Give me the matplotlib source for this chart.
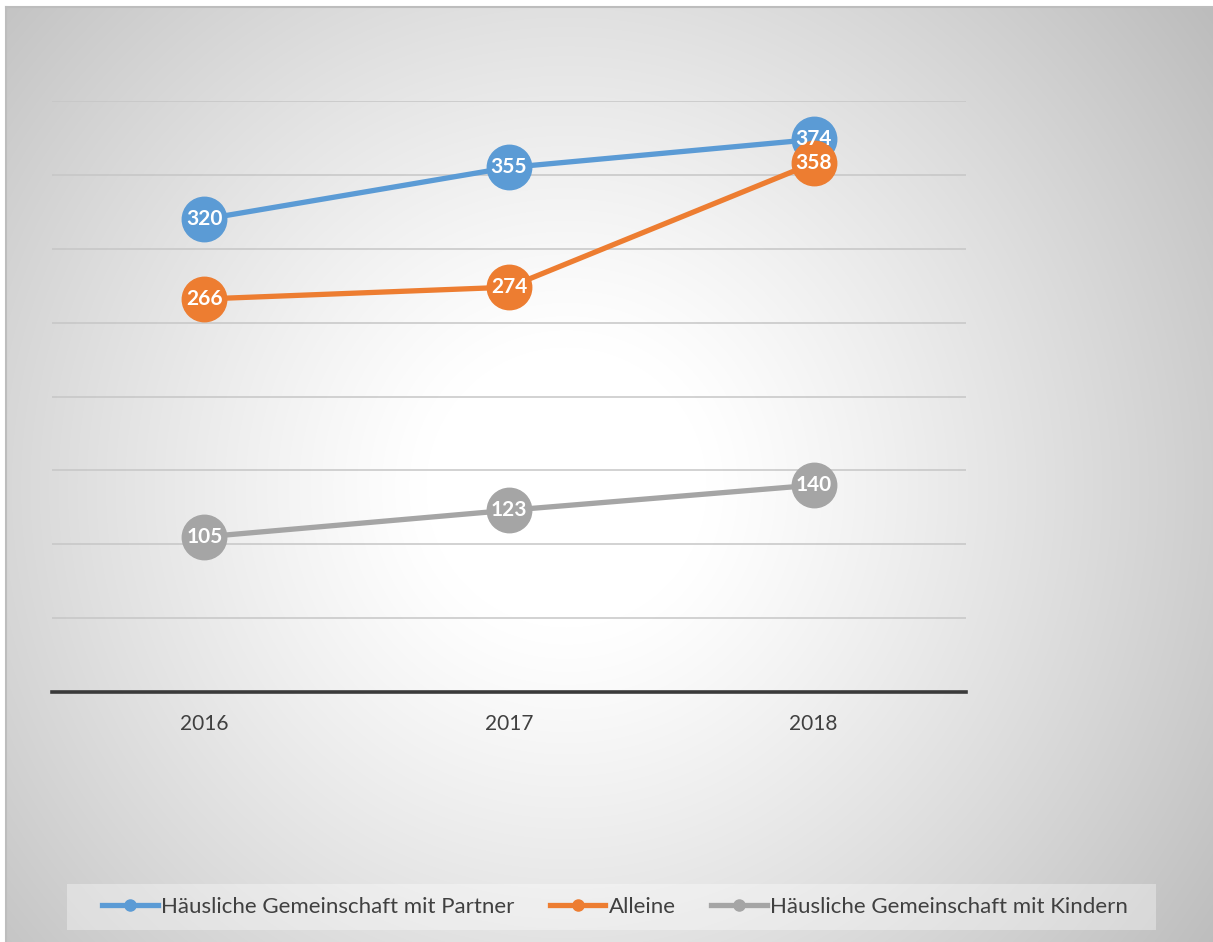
import numpy as np
import matplotlib
matplotlib.use("Agg")
import matplotlib.pyplot as plt
from matplotlib.lines import Line2D
from matplotlib.patches import Rectangle

plt.rcParams['font.family'] = ['Lato', 'DejaVu Sans']

years = ["2016", "2017", "2018"]
partner = [320, 355, 374]
alleine = [266, 274, 358]
kinder = [105, 123, 140]
series_names = ["Häusliche Gemeinschaft mit Partner", "Alleine",
                "Häusliche Gemeinschaft mit Kindern"]
colors = ["#5b9bd5", "#ed7d31", "#a5a5a5"]

W, H = 1213, 942
fig = plt.figure(figsize=(W / 100, H / 100), dpi=100)

# Radial gradient background panel
bg = fig.add_axes([6 / W, 0, 1 - 6 / W, 1 - 7 / H])
bg.set_axis_off()
yy, xx = np.mgrid[0:935, 0:1207]
cx, cy = 560, 480
r = np.hypot(xx - cx, yy - cy)
rmax = np.hypot(cx, cy) + 60
t = np.clip((r - 140) / (rmax - 140), 0, 1)
val = 1.0 - 0.26 * t ** 1.15
img = np.dstack([val, val, val])
bg.imshow(img, aspect='auto', extent=[0, 1, 0, 1], origin='upper')
bg.set_xlim(0, 1)
bg.set_ylim(0, 1)
# thin border on top and left
bg.plot([0, 0], [0, 1], color="#bdbdbd", lw=1.5, transform=bg.transAxes, clip_on=False)
bg.plot([0, 1], [1, 1], color="#bdbdbd", lw=1.5, transform=bg.transAxes, clip_on=False)

ax = fig.add_axes([52 / W, 1 - 692 / H, (966 - 52) / W, (692 - 101) / H])
ax.patch.set_alpha(0)
x = np.arange(len(years))
ax.set_xlim(-0.5, 2.5)
ax.set_ylim(0, 400)
ax.set_yticks(np.arange(50, 401, 50))
ax.yaxis.grid(True, color="#c6c6c6", lw=1.1)
ax.set_axisbelow(True)
ax.tick_params(axis='y', left=False, labelleft=False)
ax.tick_params(axis='x', bottom=False, labelsize=15, labelcolor="#404040", pad=12)
ax.set_xticks(x)
ax.set_xticklabels(years)
for s in ["top", "right", "left"]:
    ax.spines[s].set_visible(False)
ax.spines["bottom"].set_color("#3a3a3a")
ax.spines["bottom"].set_linewidth(2.6)

for vals, c in zip([partner, alleine, kinder], colors):
    ax.plot(x, vals, color=c, lw=3.8, marker='o', markersize=32,
            markerfacecolor=c, markeredgecolor=c, clip_on=False, zorder=3)
    for xi, v in zip(x, vals):
        ax.text(xi, v, str(v), ha='center', va='center', color='white',
                fontsize=15, fontweight='bold', zorder=4)

# Legend strip
leg_ax = fig.add_axes([0, 0, 1, 1])
leg_ax.set_axis_off()
leg_ax.set_xlim(0, W)
leg_ax.set_ylim(H, 0)
leg_ax.add_patch(Rectangle((67, 884), 1156 - 67, 46, facecolor="white", alpha=0.35,
                           edgecolor='none'))
handles = [Line2D([0], [0], color=c, lw=3.8, marker='o', markersize=8) for c in colors]
leg = leg_ax.legend(handles, series_names, loc='center', ncol=3,
                    bbox_to_anchor=(615 / W, 1 - 907 / H), frameon=False,
                    fontsize=16, handlelength=2.5, handletextpad=0.15,
                    columnspacing=1.6, borderpad=0, borderaxespad=0)
for txt in leg.get_texts():
    txt.set_color("#404040")

fig.savefig("out.png", dpi=100)
